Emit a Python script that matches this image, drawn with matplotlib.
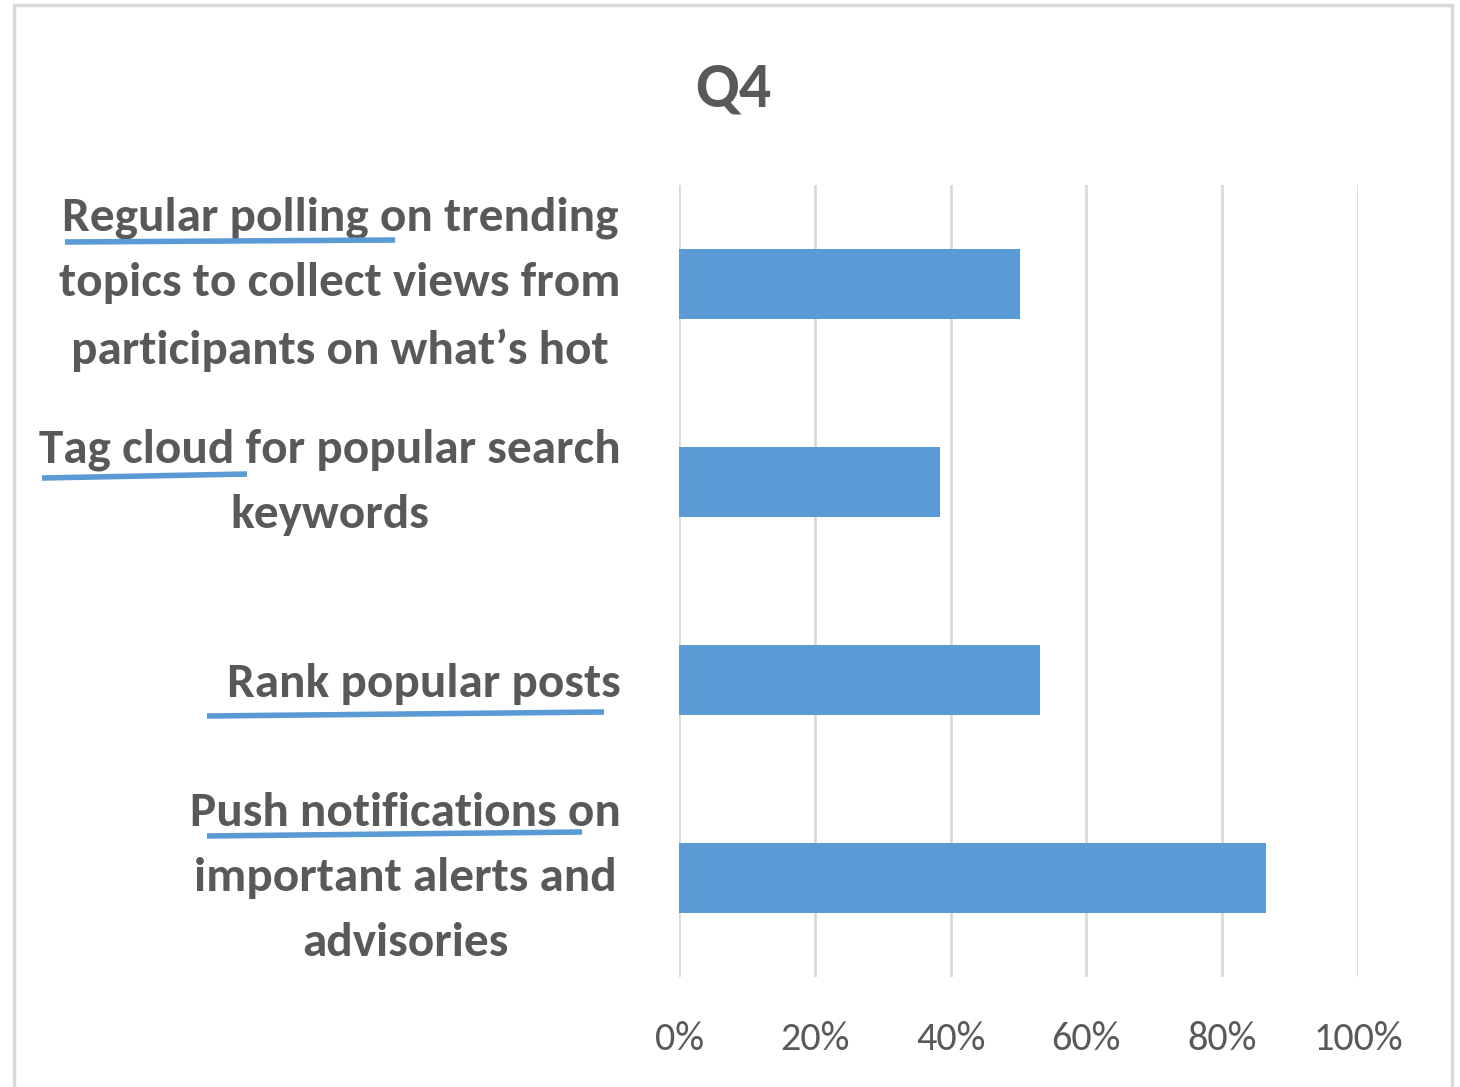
import matplotlib
matplotlib.use("Agg")
import matplotlib.pyplot as plt
from matplotlib import font_manager
from matplotlib.lines import Line2D
from matplotlib.patches import Rectangle
from matplotlib.ticker import PercentFormatter

# Calibri-like face: Carlito if around, else Lato
names = {f.name for f in font_manager.fontManager.ttflist}
FONT = "Carlito" if "Carlito" in names else "Lato"
plt.rcParams['font.family'] = [FONT, 'DejaVu Sans']

# data (top to bottom)
categories = [
    "Regular polling on trending\ntopics to collect views from\nparticipants on what\u2019s hot",
    "Tag cloud for popular search\nkeywords",
    "Rank popular posts",
    "Push notifications on\nimportant alerts and\nadvisories",
]
values = [50.2, 38.4, 53.1, 86.5]
xticks = [0, 20, 40, 60, 80, 100]

BAR = "#5B9BD5"
TEXT = "#595959"
GRID = "#D9D9D9"

W, H = 1460, 1087
fig = plt.figure(figsize=(W / 100, H / 100), dpi=100)
ax = fig.add_axes([679 / W, 1 - 977 / H, (1358 - 679) / W, (977 - 185) / H])

pos = list(range(len(categories)))[::-1]
ax.barh(pos, values, height=0.35, color=BAR, zorder=3)

ax.set_xlim(0, 100)
ax.set_ylim(-0.5, len(categories) - 0.5)
ax.set_xticks(xticks)
ax.xaxis.set_major_formatter(PercentFormatter(decimals=0))
ax.set_yticks(pos)
ax.set_yticklabels(categories)

for s in ax.spines.values():
    s.set_visible(False)
ax.grid(axis="x", color=GRID, linewidth=2, zorder=0)
ax.tick_params(axis="x", length=0, pad=32, labelsize=29, labelcolor=TEXT)
ax.tick_params(axis="y", length=0, pad=42, labelsize=35.5, labelcolor=TEXT)
for t in ax.get_yticklabels():
    t.set_fontweight("bold")
    t.set_multialignment("center")
    t.set_linespacing(1.68)
    if "\n" in t.get_text():
        t.set_verticalalignment("center")

fig.text(733 / W, 1 - 88 / H, "Q4", ha="center", va="center",
         fontsize=46, fontweight="bold", color=TEXT)

# hand-drawn underlines (pixel coords in the original picture)
underlines = [
    ((65, 395), (242, 240)),
    ((42, 247), (478, 474)),
    ((207, 604), (716, 712)),
    ((207, 582), (836, 832)),
]
for xs, ys in underlines:
    fig.add_artist(Line2D([x / W for x in xs], [1 - y / H for y in ys],
                          transform=fig.transFigure, color=BAR, linewidth=4,
                          solid_capstyle="butt"))

# chart frame
fig.add_artist(Rectangle((14 / W, -0.05), (1452 - 14) / W, 1.05 - 5 / H,
                         transform=fig.transFigure, fill=False,
                         edgecolor=GRID, linewidth=2.5))

fig.savefig("out.png", dpi=100, facecolor="white")
